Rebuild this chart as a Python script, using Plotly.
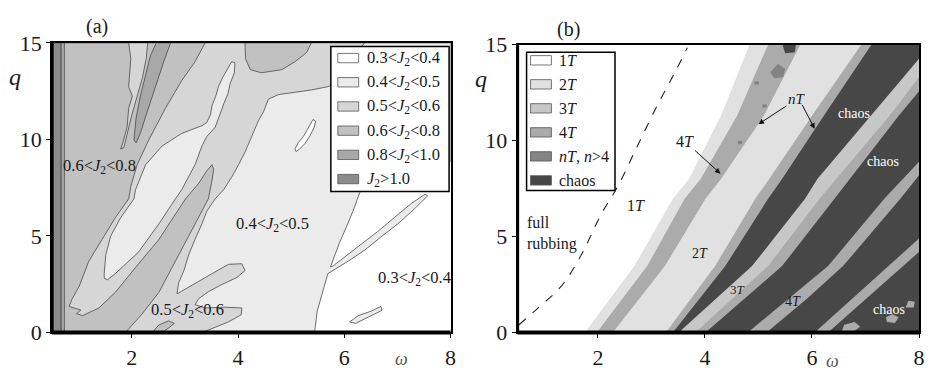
import plotly.graph_objects as go

W, H = 930, 381
W_MIN, W_MAX, Q_MIN, Q_MAX = 0.5, 8.0, 0.0, 15.0
FONT = "Liberation Serif, Times New Roman, serif"

# ---------------- Panel (a): J2 level regions (vertices in omega, q) ----------------
a_levels = ["0.3&lt;<i>J</i><sub>2</sub>&lt;0.4", "0.4&lt;<i>J</i><sub>2</sub>&lt;0.5",
            "0.5&lt;<i>J</i><sub>2</sub>&lt;0.6", "0.6&lt;<i>J</i><sub>2</sub>&lt;0.8",
            "0.8&lt;<i>J</i><sub>2</sub>&lt;1.0", "<i>J</i><sub>2</sub>&gt;1.0"]
a_colors = ["#ffffff", "#ebebeb", "#d6d6d6", "#c1c1c1", "#a8a8a8", "#8b8b8b"]

a45_main_w = [0.5, 5.44, 5.49, 5.60, 5.69, 6.07, 6.38, 6.69, 7.01, 7.32, 7.57, 7.52, 7.26, 6.94, 6.63,
              6.32, 6.01, 5.79, 5.74, 5.82, 5.91, 6.04, 6.16, 6.29, 6.38, 7.01, 8.0, 8.0, 0.5]
a45_main_q = [0, 0, 1.11, 2.24, 3.05, 3.69, 4.26, 4.95, 5.63, 6.40, 7.08, 7.16, 6.68, 5.95, 5.23,
              4.58, 3.94, 3.45, 3.40, 4.02, 4.66, 5.47, 6.27, 7.24, 7.56, 8.21, 8.85, 15, 15]

a56_main_w = [0.5, 6.38, 5.76, 5.69, 5.38, 5.01, 4.76, 4.57, 4.48, 4.38, 4.26, 4.13, 4.01, 3.88, 3.73,
              3.57, 3.41, 3.32, 3.19, 3.07, 2.98, 2.88, 2.85, 3.01, 3.26, 3.51, 3.82, 4.07, 4.13, 3.98,
              3.69, 3.44, 3.26, 3.19, 3.38, 3.76, 4.07, 4.06, 3.82, 3.57, 3.32, 0.5]
a56_main_q = [15, 15, 12.81, 12.73, 12.56, 12.44, 12.32, 12.08, 11.44, 10.95, 10.15, 9.34, 8.69, 8.05, 7.40,
              6.92, 6.27, 5.63, 4.82, 4.02, 3.21, 2.56, 2.0, 2.24, 2.65, 3.05, 3.53, 3.56, 3.21, 2.85,
              2.48, 2.11, 1.76, 1.44, 1.27, 1.31, 1.27, 0.92, 0.55, 0.27, 0, 0]

a68_v_w = [0.5, 3.38, 3.19, 2.94, 2.63, 2.32, 2.10, 1.98, 1.94, 1.69, 1.44, 1.19, 1.01, 0.88, 0.82, 0.94,
           1.04, 0.96, 1.07, 1.38, 1.69, 2.07, 2.51, 3.01, 3.26, 3.41, 3.51, 3.54, 3.51, 3.44, 3.19, 2.82,
           2.51, 2.19, 1.88, 0.5]
a68_v_q = [15, 15, 14.02, 13.05, 11.60, 9.98, 8.69, 7.56, 6.92, 5.95, 4.82, 3.69, 2.40, 1.76, 1.35, 1.24,
           1.16, 0.98, 0.87, 1.27, 2.08, 3.37, 4.82, 6.92, 7.73, 8.37, 8.69, 8.45, 7.89, 6.92, 5.63, 3.69,
           2.08, 0.95, 0, 0]

a68_top_w = [4.13, 5.38, 5.29, 5.07, 4.82, 4.44, 4.23, 4.14]
a68_top_q = [15, 15, 14.5, 14.02, 13.61, 13.45, 13.61, 14.18]

a68_bot_w = [2.38, 2.51, 2.69, 2.80, 2.69, 2.57]
a68_bot_q = [0, 0.39, 0.60, 0.47, 0.23, 0]

a45_ell_w = [1.48, 1.48, 1.51, 1.60, 1.79, 2.04, 2.07, 2.26, 2.57, 2.94, 3.32, 3.41, 3.48, 3.51, 3.58, 3.63,
             3.71, 3.81, 3.88, 3.94, 3.93, 3.85, 3.81, 3.73, 3.66, 3.57, 3.41, 3.32, 3.19, 2.94, 2.82, 2.51,
             2.13, 1.69, 1.54]
a45_ell_q = [2.81, 3.05, 4.02, 4.98, 5.95, 6.92, 7.40, 8.69, 9.66, 10.31, 10.71, 10.87, 11.27, 11.76, 12.24,
             12.73, 13.21, 13.69, 14.02, 13.97, 13.45, 12.89, 12.37, 11.84, 11.27, 10.63, 10.15, 9.66, 8.69,
             7.40, 6.92, 5.63, 4.18, 3.05, 2.73]

a56_sliver_w = [1.94, 1.98, 1.94, 2.01, 1.94, 1.91, 1.83, 1.79, 1.85, 1.91, 2.00, 2.10, 2.20, 2.27, 2.30]
a56_sliver_q = [15, 14.18, 12.73, 12.24, 11.60, 10.63, 9.82, 9.50, 9.58, 10.31, 11.27, 12.24, 13.21, 14.18, 15]

a81_wedge_w = [2.46, 2.73, 2.60, 2.44, 2.29, 2.16, 2.08, 2.04, 2.08, 2.16, 2.26, 2.35]
a81_wedge_q = [15, 15, 14.02, 12.73, 11.44, 10.31, 9.82, 9.98, 11.11, 12.24, 13.37, 14.34]

a34_isl_w = [5.07, 5.13, 5.23, 5.29, 5.35, 5.41, 5.46, 5.43, 5.35, 5.26, 5.16, 5.09]
a34_isl_q = [9.50, 9.82, 10.15, 10.47, 10.79, 11.03, 10.95, 10.60, 10.18, 9.79, 9.50, 9.37]

a45_blob_w = [6.10, 6.26, 6.51, 6.69, 6.71, 6.48, 6.21]
a45_blob_q = [0.55, 0.87, 1.11, 1.35, 1.15, 0.82, 0.47]

a10_strip_w = [0.5, 0.67, 0.67, 0.5]
a81_strip_w = [0.67, 0.73, 0.73, 0.67]
a_strip_q = [0, 0, 15, 15]

a_region_labels = ["0.6&lt;<i>J</i><sub>2</sub>&lt;0.8", "0.4&lt;<i>J</i><sub>2</sub>&lt;0.5",
                   "0.5&lt;<i>J</i><sub>2</sub>&lt;0.6", "0.3&lt;<i>J</i><sub>2</sub>&lt;0.4"]
a_region_w = [1.39, 4.64, 3.04, 7.32]
a_region_q = [8.6, 5.63, 1.19, 2.8]

# ---------------- Panel (b): periodicity bands ----------------
b_levels = ["1<i>T</i>", "2<i>T</i>", "3<i>T</i>", "4<i>T</i>", "<i>nT</i>, <i>n</i>&gt;4", "chaos"]
b_colors = ["#ffffff", "#e1e1e1", "#c7c7c7", "#ababab", "#838383", "#474747"]

q6 = [0, 3.46, 6.97, 8.0, 11.3, 15]
b_c1_w = [1.76, 2.68, 3.40, 3.70, 4.30, 4.83]
b_c2_w = [1.98, 2.92, 3.62, 3.92, 4.60, 5.18]
b_c3_w = [2.28, 3.25, 4.01, 4.30, 5.10, 5.78]
b_c4_w = [3.27, 4.19, 4.94, 5.20, 6.00, 6.92]
b_c5_w = [3.40, 4.38, 5.18, 5.44, 6.22, 7.11]
b_c6_w = [3.51, 4.88, 5.87, 6.10, 7.10, 8.0]
b_c6_q = [0, 3.46, 6.97, 8.0, 11.3, 14.27]
b_c7_w = [3.82, 5.18, 6.14, 7.45, 8.0]
b_c7_q = [0, 3.46, 6.97, 11.3, 13.3]
b_c8_w = [4.01, 5.44, 6.42, 7.62, 8.0]
b_c8_q = [0, 3.46, 6.97, 11.3, 12.57]
b_c9_w = [4.80, 5.55, 6.30, 7.35, 8.0]
b_c9_q = [0, 1.75, 3.46, 6.97, 8.9]
b_c10_w = [5.15, 5.90, 6.58, 7.65, 8.0]
b_c10_q = [0, 1.75, 3.46, 6.97, 8.2]
b_c11_w = [6.05, 7.0, 8.0]
b_c11_q = [0, 2.4, 4.9]
b_c12_w = [6.3, 7.2, 8.0]
b_c12_q = [0, 2.2, 4.2]
# index into b_colors of the band lying right of each boundary
b_bounds = [(b_c1_w, q6, 1), (b_c2_w, q6, 3), (b_c3_w, q6, 1), (b_c4_w, q6, 3), (b_c5_w, q6, 5),
            (b_c6_w, b_c6_q, 2), (b_c7_w, b_c7_q, 3), (b_c8_w, b_c8_q, 5), (b_c9_w, b_c9_q, 3),
            (b_c10_w, b_c10_q, 5), (b_c11_w, b_c11_q, 3), (b_c12_w, b_c12_q, 5)]

# small islands (lists of polygons)
b_nt_spots = [([5.22, 5.36, 5.50, 5.46, 5.30], [13.55, 14.0, 13.75, 13.3, 13.25]),
              ([4.93, 5.01, 5.00, 4.92], [12.9, 12.95, 13.1, 13.08]),
              ([5.08, 5.16, 5.15, 5.07], [11.7, 11.75, 11.9, 11.88]),
              ([4.62, 4.70, 4.69, 4.61], [9.8, 9.85, 10.0, 9.98])]
b_chaos_spots = [([5.45, 5.70, 5.68, 5.50], [15, 15, 14.6, 14.55])]
b_light_spots = [([6.55, 6.75, 6.90, 6.80, 6.60], [0, 0, 0.3, 0.55, 0.4]),
                 ([7.40, 7.55, 7.62, 7.50, 7.38], [0.55, 0.5, 0.8, 0.95, 0.8]),
                 ([7.75, 7.90, 7.92, 7.80], [1.3, 1.3, 1.6, 1.65])]

b_rub_w = [0.52, 0.89, 1.32, 1.69, 2.06, 2.37, 2.74, 3.11, 3.42, 3.67]
b_rub_q = [0.39, 1.30, 2.43, 4.05, 6.16, 7.61, 9.73, 11.84, 13.46, 14.84]

# ---------------- figure ----------------
fig = go.Figure()


def poly(w, q, color, xa, ya, edge=True):
    fig.add_trace(go.Scatter(
        x=w + [w[0]], y=q + [q[0]], mode="lines", fill="toself", fillcolor=color,
        line=dict(color="#4a4a4a" if edge else color, width=0.8 if edge else 0),
        hoverinfo="skip", showlegend=False, xaxis=xa, yaxis=ya))


def polys(items, color, xa, ya):
    xs, ys = [], []
    for w, q in items:
        xs += w + [w[0], None]
        ys += q + [q[0], None]
    fig.add_trace(go.Scatter(x=xs, y=ys, mode="lines", fill="toself", fillcolor=color,
                             line=dict(color=color, width=0), hoverinfo="skip", showlegend=False,
                             xaxis=xa, yaxis=ya))


# panel (a) painter's order
poly(a45_main_w, a45_main_q, a_colors[1], "x", "y")
poly(a56_main_w, a56_main_q, a_colors[2], "x", "y")
poly(a68_v_w, a68_v_q, a_colors[3], "x", "y")
poly(a68_top_w, a68_top_q, a_colors[3], "x", "y")
poly(a68_bot_w, a68_bot_q, a_colors[3], "x", "y")
poly(a45_ell_w, a45_ell_q, a_colors[1], "x", "y")
poly(a56_sliver_w, a56_sliver_q, a_colors[2], "x", "y")
poly(a81_wedge_w, a81_wedge_q, a_colors[4], "x", "y")
poly(a34_isl_w, a34_isl_q, a_colors[0], "x", "y")
poly(a45_blob_w, a45_blob_q, a_colors[1], "x", "y")
poly(a10_strip_w, a_strip_q, a_colors[5], "x", "y")
poly(a81_strip_w, a_strip_q, a_colors[4], "x", "y")

# panel (b): fill the region right of each boundary
for bw, bq, ci in b_bounds:
    pw = list(bw) + ([W_MAX] if bq[-1] >= Q_MAX else []) + [W_MAX]
    pq = list(bq) + ([Q_MAX] if bq[-1] >= Q_MAX else []) + [Q_MIN]
    poly(pw, pq, b_colors[ci], "x2", "y2", edge=False)
polys(b_nt_spots, b_colors[4], "x2", "y2")
polys(b_chaos_spots, b_colors[5], "x2", "y2")
polys(b_light_spots, b_colors[3], "x2", "y2")

fig.add_trace(go.Scatter(x=b_rub_w, y=b_rub_q, mode="lines",
                         line=dict(color="#222", width=1.1, dash="dash", shape="spline"),
                         hoverinfo="skip", showlegend=False, xaxis="x2", yaxis="y2"))


def px2paper(px, py):
    return px / W, 1 - py / H


axis_common = dict(range=[W_MIN, W_MAX], showgrid=False, zeroline=False, showline=True, mirror=True,
                   linecolor="black", linewidth=2, ticks="outside", ticklen=4, tickwidth=1,
                   tickcolor="black", tickvals=[2, 4, 6, 8], ticktext=["2", "4", "6", "8"],
                   tickfont=dict(family=FONT, size=22, color="#1a1a1a"))
yaxis_common = dict(range=[Q_MIN, Q_MAX], showgrid=False, zeroline=False, showline=True, mirror=True,
                    linecolor="black", linewidth=2, ticks="outside", ticklen=4, tickwidth=1,
                    tickcolor="black", tickvals=[0, 5, 10, 15], ticktext=["0", "5", "10", "15"],
                    tickfont=dict(family=FONT, size=22, color="#1a1a1a"))

fig.update_layout(
    width=W, height=H, autosize=False, margin=dict(l=0, r=0, t=0, b=0),
    paper_bgcolor="white", plot_bgcolor="white",
    xaxis=dict(axis_common, domain=[52.5 / W, 453.5 / W], anchor="y"),
    yaxis=dict(yaxis_common, domain=[1 - 343 / H, 1 - 33 / H], anchor="x"),
    xaxis2=dict(axis_common, domain=[521 / W, 925 / W], anchor="y2"),
    yaxis2=dict(yaxis_common, domain=[1 - 343 / H, 1 - 35 / H], anchor="x2"),
)

shapes = []
annotations = []

# thick frame edges (bottom / left)
for xr, yr in [("x", "y"), ("x2", "y2")]:
    shapes.append(dict(type="line", xref=xr + " domain", yref=yr + " domain", x0=0, x1=1, y0=0, y1=0,
                       line=dict(color="black", width=4)))
    shapes.append(dict(type="line", xref=xr + " domain", yref=yr + " domain", x0=0, x1=0, y0=0, y1=1,
                       line=dict(color="black", width=3)))


def legend(box, sw_x, txt_x, row0, dy, labels, colors, size):
    x0, y0 = px2paper(box[0], box[1])
    x1, y1 = px2paper(box[2], box[3])
    shapes.append(dict(type="rect", xref="paper", yref="paper", x0=x0, x1=x1, y0=y0, y1=y1,
                       fillcolor="white", line=dict(color="black", width=1.5)))
    for i, (lab, col) in enumerate(zip(labels, colors)):
        cy = row0 + i * dy
        sx0, sy0 = px2paper(sw_x[0], cy - 5)
        sx1, sy1 = px2paper(sw_x[1], cy + 5)
        shapes.append(dict(type="rect", xref="paper", yref="paper", x0=sx0, x1=sx1, y0=sy0, y1=sy1,
                           fillcolor=col, line=dict(color="#555", width=0.8)))
        tx, ty = px2paper(txt_x, cy)
        annotations.append(dict(x=tx, y=ty, xref="paper", yref="paper", text=lab, showarrow=False,
                                xanchor="left", yanchor="middle",
                                font=dict(family=FONT, size=size, color="#1a1a1a")))


legend((333, 37, 452, 192), (340, 361), 367, 49.3, 25.9, a_levels, a_colors, 16.5)
legend((530, 43, 619, 191), (534, 555), 561, 51.7, 25.7, b_levels, b_colors, 16)

# panel titles and axis labels
for txt, (px, py), size, col in [("(a)", (98, 15), 20, "#1a1a1a"), ("(b)", (572, 19), 20, "#1a1a1a"),
                                 ("<i>q</i>", (15, 70), 24, "#1a1a1a"), ("<i>q</i>", (484, 72), 24, "#1a1a1a"),
                                 ("<i>ω</i>", (404, 371), 18, "#555"), ("<i>ω</i>", (838, 373), 18, "#555")]:
    x, y = px2paper(px, py)
    annotations.append(dict(x=x, y=y, xref="paper", yref="paper", text=txt, showarrow=False,
                            xanchor="center", yanchor="middle", font=dict(family=FONT, size=size, color=col)))

# region labels panel (a)
for lab, w, q in zip(a_region_labels, a_region_w, a_region_q):
    annotations.append(dict(x=w, y=q, xref="x", yref="y", text=lab, showarrow=False,
                            font=dict(family=FONT, size=16.5, color="#1a1a1a")))

# region labels panel (b)
b_text = ["1<i>T</i>", "2<i>T</i>", "3<i>T</i>", "4<i>T</i>", "chaos", "chaos", "chaos", "full<br>rubbing"]
b_text_w = [2.71, 3.90, 4.60, 5.64, 6.79, 7.32, 7.44, 0.63]
b_text_q = [6.62, 4.14, 2.25, 1.6, 11.43, 8.91, 1.2, 5.16]
b_text_size = [16, 14, 13, 14, 14, 14, 14, 16]
b_text_color = ["#1a1a1a"] * 4 + ["white"] * 3 + ["#1a1a1a"]
for i, (lab, w, q) in enumerate(zip(b_text, b_text_w, b_text_q)):
    annotations.append(dict(x=w, y=q, xref="x2", yref="y2", text=lab, showarrow=False,
                            xanchor="left" if i == 7 else "center", align="left",
                            font=dict(family=FONT, size=b_text_size[i], color=b_text_color[i])))

# arrows
arrow_style = dict(xref="x2", yref="y2", axref="x2", ayref="y2", showarrow=True, arrowhead=2,
                   arrowsize=1.1, arrowwidth=1, arrowcolor="#111")
annotations.append(dict(arrow_style, x=4.29, y=8.28, ax=3.62, ay=9.98, text="4<i>T</i>",
                        font=dict(family=FONT, size=16, color="#1a1a1a")))
annotations.append(dict(arrow_style, x=5.0, y=10.86, ax=5.72, ay=12.17, text="<i>nT</i>",
                        font=dict(family=FONT, size=15, color="#1a1a1a")))
annotations.append(dict(arrow_style, x=6.05, y=10.62, ax=5.80, ay=11.95, text=""))

fig.update_layout(shapes=shapes, annotations=annotations)

fig.write_html("out.html", config={"displayModeBar": False},
               post_script="document.body.style.margin='0';")
